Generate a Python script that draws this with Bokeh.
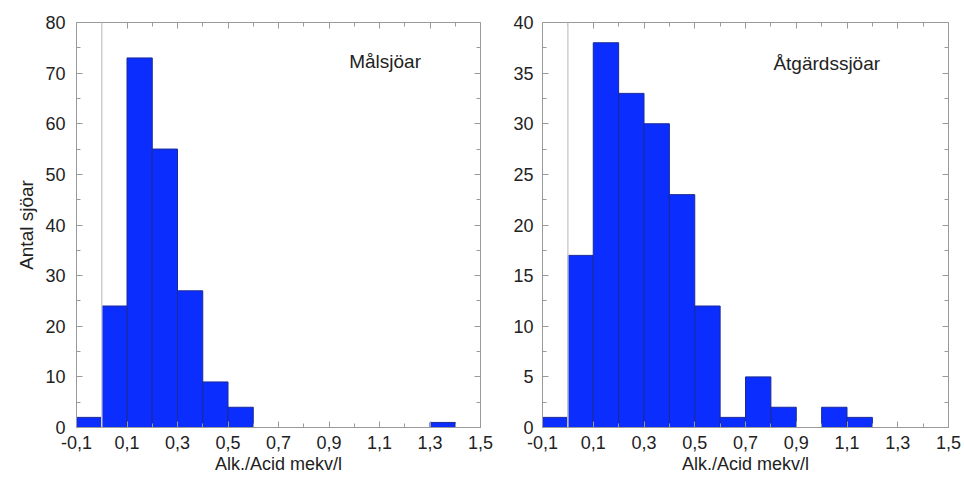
from bokeh.plotting import figure
from bokeh.layouts import row
from bokeh.models import (Range1d, FixedTicker, LinearAxis, CustomJSTickFormatter,
                          Span, Label, ColumnDataSource)
from bokeh.embed import file_html
from bokeh.resources import INLINE

# ---- data -------------------------------------------------------------
bin_left = [-0.1, 0.0, 0.1, 0.2, 0.3, 0.4, 0.5, 0.6, 0.7, 0.8, 0.9, 1.0, 1.1, 1.2, 1.3, 1.4]
bin_width = 0.1
malsjoar_counts = [2, 24, 73, 55, 27, 9, 4, 0, 0, 0, 0, 0, 0, 0, 1, 0]
atgardssjoar_counts = [1, 17, 38, 33, 30, 23, 12, 1, 5, 2, 0, 2, 1, 0, 0, 0]
x_major_ticks = [-0.1, 0.1, 0.3, 0.5, 0.7, 0.9, 1.1, 1.3, 1.5]
x_minor_ticks = [0.0, 0.2, 0.4, 0.6, 0.8, 1.0, 1.2, 1.4]
left_y_ticks = [0, 10, 20, 30, 40, 50, 60, 70, 80]
left_y_minor = [5, 15, 25, 35, 45, 55, 65, 75]
right_y_ticks = [0, 5, 10, 15, 20, 25, 30, 35, 40]
right_y_minor = [2.5, 7.5, 12.5, 17.5, 22.5, 27.5, 32.5, 37.5]
x_label = "Alk./Acid mekv/l"
y_label = "Antal sjöar"
left_title = "Målsjöar"
right_title = "Åtgärdssjöar"

FONT = "Liberation Sans"
AXIS_COLOR = "#9a9a9a"
BAR_FILL = "#0b2eff"
BAR_LINE = "#1a2a99"

comma_fmt = CustomJSTickFormatter(code="return tick.toFixed(1).replace('.', ',');")
blank_fmt = CustomJSTickFormatter(code="return '';")


def style_axis(ax, label_standoff):
    ax.axis_line_color = AXIS_COLOR
    ax.major_tick_line_color = AXIS_COLOR
    ax.minor_tick_line_color = AXIS_COLOR
    ax.major_tick_in = 6
    ax.major_tick_out = 0
    ax.minor_tick_in = 4
    ax.minor_tick_out = 0
    ax.major_label_text_font = FONT
    ax.major_label_text_font_size = "18px"
    ax.major_label_text_color = "#222222"
    ax.major_label_standoff = label_standoff
    ax.axis_label_text_font = FONT
    ax.axis_label_text_font_size = "18px"
    ax.axis_label_text_font_style = "normal"
    ax.axis_label_text_color = "#222222"


def make_panel(counts, ymax, yticks, yminor, title, title_x, title_y,
               width, mbl, mbr, ylab_standoff, ylabel=None):
    p = figure(width=width, height=478, output_backend="svg", toolbar_location=None,
               x_range=Range1d(-0.1, 1.5), y_range=Range1d(0, ymax),
               min_border_left=mbl, min_border_right=mbr,
               min_border_top=22, min_border_bottom=51)
    p.outline_line_color = None
    p.xgrid.visible = False
    p.ygrid.visible = False
    p.background_fill_color = "white"
    p.border_fill_color = "white"

    p.add_layout(Span(location=0, dimension="height", line_color="#cfcfcf", line_width=1.5))

    src = ColumnDataSource(dict(
        left=bin_left,
        right=[b + bin_width for b in bin_left],
        top=counts,
        bottom=[0] * len(counts),
    ))
    p.quad(left="left", right="right", top="top", bottom="bottom", source=src,
           fill_color=BAR_FILL, line_color=BAR_LINE, line_width=1)

    xt = FixedTicker(ticks=x_major_ticks, minor_ticks=x_minor_ticks)
    yt = FixedTicker(ticks=yticks, minor_ticks=yminor)

    xa = p.xaxis[0]
    xa.ticker = xt
    xa.formatter = comma_fmt
    xa.axis_label = x_label
    style_axis(xa, 8)
    xa.axis_label_standoff = 2

    ya = p.yaxis[0]
    ya.ticker = yt
    style_axis(ya, ylab_standoff)
    if ylabel:
        ya.axis_label = ylabel
        ya.axis_label_text_font_size = "19px"
        ya.axis_label_standoff = 5

    top = LinearAxis(ticker=xt, formatter=blank_fmt)
    style_axis(top, 0)
    top.major_label_text_font_size = "1px"
    p.add_layout(top, "above")

    rgt = LinearAxis(ticker=yt, formatter=blank_fmt)
    style_axis(rgt, 0)
    rgt.major_label_text_font_size = "1px"
    p.add_layout(rgt, "right")

    p.add_layout(Label(x=title_x, y=title_y, text=title, text_baseline="middle",
                       text_font=FONT, text_font_size="19px", text_color="#222222"))
    return p


p1 = make_panel(malsjoar_counts, 80, left_y_ticks, left_y_minor, left_title, 0.98, 72.3,
                width=505, mbl=76, mbr=25, ylab_standoff=11, ylabel=y_label)
p2 = make_panel(atgardssjoar_counts, 40, right_y_ticks, right_y_minor, right_title, 0.81, 36.0,
                width=459, mbl=37, mbr=16, ylab_standoff=9)

layout = row(p1, p2)
open("out.html", "w").write(file_html(layout, INLINE))
